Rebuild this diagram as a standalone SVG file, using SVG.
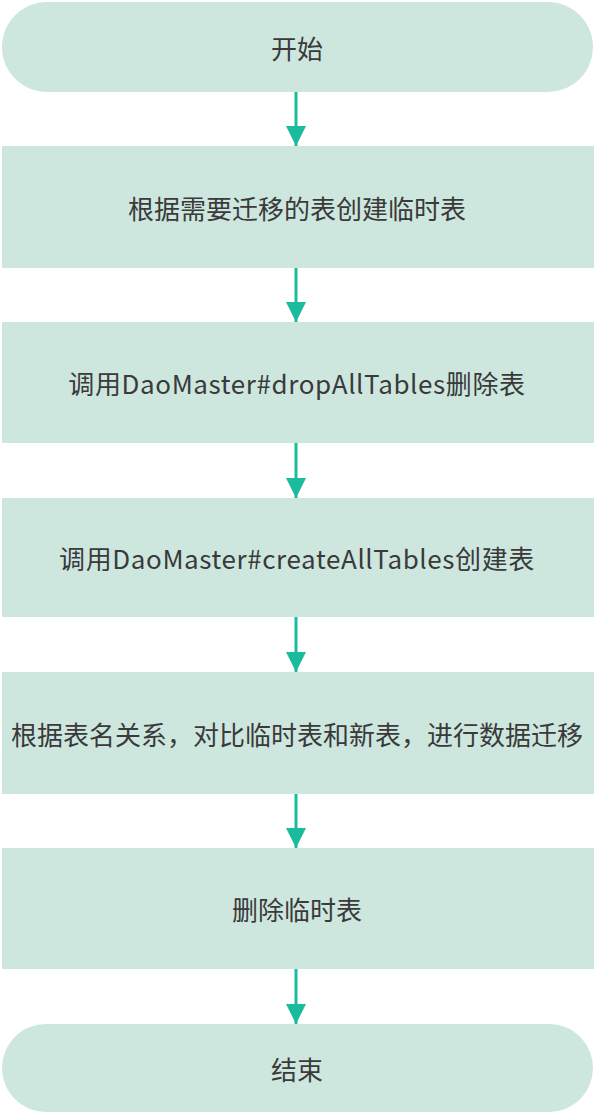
<svg xmlns="http://www.w3.org/2000/svg" width="594" height="1114" viewBox="0 0 594 1114">
<defs>
<style>
.n{fill:#cde7df;}
.t{font-family:"Noto Sans CJK SC","Noto Sans",sans-serif;font-size:26px;fill:#3a3a3a;text-anchor:middle;dominant-baseline:central;}
.l{letter-spacing:0.6px;}
.c{stroke:#1bbc9b;stroke-width:3;fill:none;}
</style>
<marker id="ah" markerUnits="userSpaceOnUse" markerWidth="22" markerHeight="20" refX="20" refY="10" orient="auto">
<path d="M0,0 L20,10 L0,20 Z" fill="#1bbc9b"/>
</marker>
</defs>
<rect width="594" height="1114" fill="#ffffff"/>
<g id="start"><rect class="n" x="2" y="2" width="591" height="90" rx="45" ry="45"/><text class="t" x="297" y="47">开始</text></g>
<g id="step1"><rect class="n" x="2" y="146" width="592" height="122"/><text class="t" x="297" y="207">根据需要迁移的表创建临时表</text></g>
<g id="step2"><rect class="n" x="2" y="322" width="592" height="121"/><text class="t l" x="297" y="382">调用DaoMaster#dropAllTables删除表</text></g>
<g id="step3"><rect class="n" x="2" y="498" width="592" height="119"/><text class="t l" x="297" y="557">调用DaoMaster#createAllTables创建表</text></g>
<g id="step4"><rect class="n" x="2" y="672" width="592" height="122"/><text class="t" x="297" y="733">根据表名关系，对比临时表和新表，进行数据迁移</text></g>
<g id="step5"><rect class="n" x="2" y="848" width="592" height="121"/><text class="t" x="297" y="908">删除临时表</text></g>
<g id="end"><rect class="n" x="2" y="1024" width="591" height="88" rx="44" ry="44"/><text class="t" x="297" y="1068">结束</text></g>
<g id="connectors">
<line class="c" x1="296" y1="92" x2="296" y2="146" marker-end="url(#ah)"/>
<line class="c" x1="296" y1="268" x2="296" y2="322" marker-end="url(#ah)"/>
<line class="c" x1="296" y1="443" x2="296" y2="498" marker-end="url(#ah)"/>
<line class="c" x1="296" y1="617" x2="296" y2="672" marker-end="url(#ah)"/>
<line class="c" x1="296" y1="794" x2="296" y2="848" marker-end="url(#ah)"/>
<line class="c" x1="296" y1="969" x2="296" y2="1024" marker-end="url(#ah)"/>
</g>
</svg>
